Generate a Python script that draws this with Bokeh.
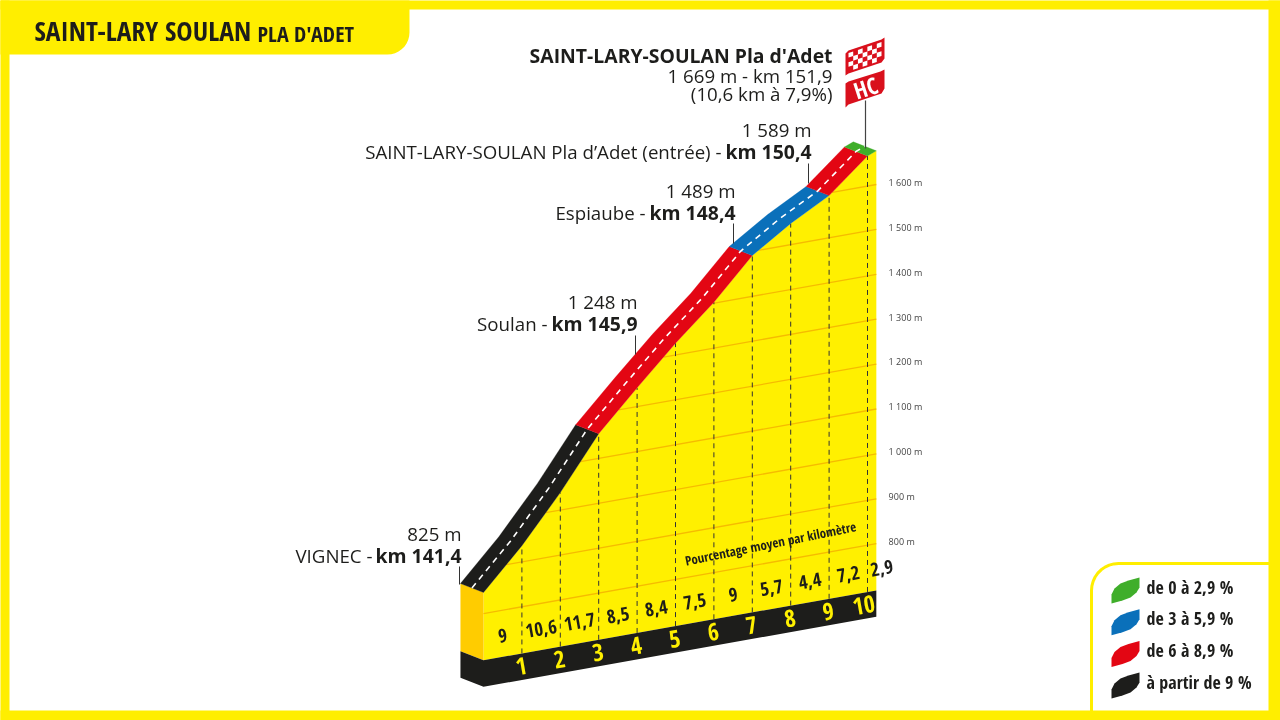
import numpy as np
from bokeh.core.properties import value
from bokeh.plotting import figure
from bokeh.embed import file_html
from bokeh.resources import INLINE

# ---------- data ----------
road_km = [0, 1, 2, 3, 4, 5, 6, 7, 8, 9, 10, 10.23]
road_alt = [847, 936, 1039, 1155, 1242, 1326, 1402, 1491, 1547, 1594, 1667, 1675]
seg_from = [0, 3, 7, 9, 10]
seg_to = [3, 7, 9, 10, 10.23]
seg_colors = ["#1d1d1b", "#e30613", "#0a70ba", "#e30613", "#3fae2a"]
pct_km = [0.5, 1.5, 2.5, 3.5, 4.5, 5.5, 6.5, 7.5, 8.5, 9.5, 10.37]
pct_labels = ["9", "10,6", "11,7", "8,5", "8,4", "7,5", "9", "5,7", "4,4", "7,2", "2,9"]
km_ticks = [1, 2, 3, 4, 5, 6, 7, 8, 9, 10]
elev_ticks = [800, 900, 1000, 1100, 1200, 1300, 1400, 1500, 1600]
elev_labels = ["800 m", "900 m", "1 000 m", "1 100 m", "1 200 m",
               "1 300 m", "1 400 m", "1 500 m", "1 600 m"]
legend_labels = ["de 0 à 2,9 %", "de 3 à 5,9 %", "de 6 à 8,9 %", "à partir de 9 %"]
legend_colors = ["#3fae2a", "#0a70ba", "#e30613", "#1d1d1b"]
BASE_ALT = 696
FOOT_ALT = 637

# ---------- scales ----------
PX_PER_KM = 38.4
PX_PER_M = 0.449
AXIS_KM = 10.55
SKEW = 15.22            # metres of apparent rise per km (oblique view)
DEPTH_KM, DEPTH_M = -0.6, 20.0
YEL, FRAME, ORG, BLK = "#fff000", "#ffee00", "#ffcc00", "#1d1d1b"
GRID = "#f6bb00"
NARROW = "Open Sans Condensed"
SANS = "Open Sans"


def X(px):
    return (np.asarray(px, float) - 483) / PX_PER_KM


def Y(py):
    return 800 + (541 - np.asarray(py, float)) / PX_PER_M


def sk(km, alt, depth=0.0):
    km = np.asarray(km, float)
    alt = np.asarray(alt, float)
    return km + depth * DEPTH_KM, alt - SKEW * (AXIS_KM - km) + depth * DEPTH_M


p = figure(width=1280, height=720, output_backend="svg", toolbar_location=None,
           x_range=(float(X(0)), float(X(1280))), y_range=(float(Y(720)), float(Y(0))),
           min_border=0, outline_line_color=None, background_fill_color="white",
           border_fill_color="white", x_axis_type=None, y_axis_type=None)
p.grid.visible = False
p.styles = {"position": "fixed", "left": "0px", "top": "0px"}


def poly(pts, color, line=None, lw=1):
    a = np.array(pts, float)
    p.patch(X(a[:, 0]), Y(a[:, 1]), fill_color=color, line_color=line or color,
            line_width=lw if line else 0)


def txt(px, py, s, size, font=SANS, style="normal", color="#1d1d1b", align="right", angle=0):
    p.text([float(X(px))], [float(Y(py))], text=[s], text_font=value(font), text_font_style=style,
           text_font_size=f"{size}px", text_color=color, text_align=align,
           text_baseline="middle", angle=angle, angle_units="deg")


def arc(cx, cy, r, a0, a1, n=10):
    t = np.radians(np.linspace(a0, a1, n))
    return [(cx + r * np.cos(v), cy + r * np.sin(v)) for v in t]


# ---------- profile body ----------
rk = np.array(road_km)
ra = np.array(road_alt)
end_km = rk[-1]

bx, by = sk([0, end_km], [BASE_ALT, BASE_ALT])
fx, fy = sk([0, end_km], [FOOT_ALT, FOOT_ALT])
bdx, bdy = sk([0], [BASE_ALT], 1)
fdx, fdy = sk([0], [FOOT_ALT], 1)
tdx, tdy = sk([0], [ra[0]], 1)
tfx, tfy = sk([0], [ra[0]], 0)

# yellow face
sx, sy = sk(rk, ra)
p.patch(np.r_[sx, bx[1], bx[0]], np.r_[sy, by[1], by[0]], fill_color=YEL, line_width=0, line_color=YEL)
# left orange face
p.patch([tdx[0], tfx[0], bx[0], bdx[0]], [tdy[0], tfy[0], by[0], bdy[0]], fill_color=ORG, line_width=0, line_color=ORG)
# black foot
p.patch([bdx[0], bx[0], bx[1], fx[1], fx[0], fdx[0]], [bdy[0], by[0], by[1], fy[1], fy[0], fdy[0]],
        fill_color=BLK, line_color=BLK, line_width=0)

# altitude lines, stopped at the road
for alt in elev_ticks:
    _, gy = sk(rk, np.full_like(rk, alt, dtype=float))
    _, ry = sk(rk, ra)
    diff = ry - gy
    if diff[0] >= 0:
        k0 = 0.0
    else:
        k0 = float(np.interp(0, diff, rk))
    gxs, gys = sk([k0, end_km], [alt, alt])
    p.line(gxs, gys, line_color=GRID, line_width=1.3)

# km dashed rules
for k in km_ticks:
    top = float(np.interp(k, rk, ra))
    xs, ys = sk([k, k], [BASE_ALT, top])
    p.line(xs, ys, line_color="#333333", line_width=1, line_dash=[5, 4])

# road ribbon
for a, b, c in zip(seg_from, seg_to, seg_colors):
    ks = np.array([v for v in rk if a <= v <= b])
    al = np.interp(ks, rk, ra)
    x0, y0 = sk(ks, al)
    x1, y1 = sk(ks, al, 1)
    p.patch(np.r_[x0, x1[::-1]], np.r_[y0, y1[::-1]], fill_color=c, line_color=c, line_width=0.3)
cx, cy = sk(rk, ra, 0.5)
p.line(cx, cy, line_color="white", line_width=1.6, line_dash=[6, 5])

# percent numbers & km numbers
for k, s in zip(pct_km, pct_labels):
    xs, ys = sk([k], [BASE_ALT + 48])
    p.text(xs, ys, text=[s], text_font=value(NARROW), text_font_style="bold", text_font_size="19px",
           text_color=BLK, text_align="center", text_baseline="middle", angle=10, angle_units="deg")
for k in km_ticks:
    xs, ys = sk([k - (0.1 if k == 10 else 0.02)], [BASE_ALT - 28])
    p.text(xs, ys, text=[str(k)], text_font=value(NARROW), text_font_style="bold", text_font_size="24px",
           text_color=YEL, text_align="center", text_baseline="middle", angle=10, angle_units="deg")
txt(770, 543, "Pourcentage moyen par kilomètre", 13, NARROW, "bold", BLK, "center", 11.5)

# altitude scale
for alt, s in zip(elev_ticks, elev_labels):
    p.text([AXIS_KM], [alt], text=[s], text_font=value(SANS), text_font_size="9px", text_color="#444444",
           text_align="left", text_baseline="middle")

# ---------- callouts ----------
for xp, y0, y1 in [(459, 566, 584), (635, 335, 354), (733, 223, 243), (808, 163, 183)]:
    p.line(X([xp, xp]), Y([y0, y1]), line_color="#333333", line_width=1)

LR, LB = 18.7, 19.4
txt(461, 533, "825 m", LR)
txt(372, 555, "VIGNEC -", LR)
txt(461, 555, "km 141,4", LB, style="bold")
txt(637, 301, "1 248 m", LR)
txt(547, 323, "Soulan -", LR)
txt(637, 323, "km 145,9", LB, style="bold")
txt(735, 190, "1 489 m", LR)
txt(645, 212, "Espiaube -", LR)
txt(735, 212, "km 148,4", LB, style="bold")
txt(811, 129, "1 589 m", LR)
txt(721, 151, "SAINT-LARY-SOULAN Pla d’Adet (entrée) -", LR)
txt(811, 151, "km 150,4", LB, style="bold")
txt(832, 55, "SAINT-LARY-SOULAN Pla d'Adet", LB, style="bold")
txt(832, 75, "1 669 m - km 151,9", LR)
txt(832, 93, "(10,6 km à 7,9%)", LR)

# flags
p.line(X([865, 865]), Y([100, 148]), line_color="#444444", line_width=1.2)
poly([(845, 83), (848, 81), (880, 71), (884, 69), (884, 88), (881, 93), (848, 104), (845, 107)], "#d9101c")
txt(865, 87, "HC", 23, NARROW, "bold", "white", "center", 18)
poly([(845, 53), (848, 50), (881, 39), (884, 37), (884, 58), (881, 62), (848, 73), (845, 75)], "#d9101c")
cols, rows = 7, 4
x0f, xw = 848.0, 33.0
for r in range(rows):
    for c in range(cols):
        if (r + c) % 2 == 0:
            xa = x0f + xw * c / cols
            xb = x0f + xw * (c + 1) / cols
            ya = 52.5 + 4.6 * r - (xa - x0f) * 0.33
            yb = 52.5 + 4.6 * r - (xb - x0f) * 0.33
            poly([(xa, ya), (xb, yb), (xb, yb + 4.6), (xa, ya + 4.6)], "white")

# ---------- legend ----------
poly([(1091, 715), (1091, 590)] + arc(1118, 590, 27, 180, 270) + [(1272, 563), (1272, 715)], "white", FRAME, 3)
for i, (s, c) in enumerate(zip(legend_labels, legend_colors)):
    t = 577 + 31.7 * i
    poly([(1111, t + 26), (1111, t + 17), (1114, t + 11), (1120, t + 6), (1128, t + 3), (1139, t),
          (1139, t + 10), (1136, t + 15), (1130, t + 20), (1122, t + 23)], c)
    txt(1146, t + 9, s, 18, NARROW, "bold", BLK, "left")

# ---------- frame and title banner ----------
p.quad(left=X([-10, -10, -10, 1268]), right=X([9, 1290, 1290, 1290]),
       top=Y([-10, -10, 710, -10]), bottom=Y([730, 9, 730, 730]), fill_color=FRAME, line_width=0, line_color=FRAME)
poly([(-10, -10), (409, -10), (409, 33)] + arc(387, 32, 22, 0, 90) + [(-10, 54)], FRAME)
txt(34, 30, "SAINT-LARY SOULAN", 27.5, NARROW, "bold", BLK, "left")
txt(257, 32, "PLA D'ADET", 22, NARROW, "bold", BLK, "left")

open("out.html", "w").write(file_html(p, INLINE))
